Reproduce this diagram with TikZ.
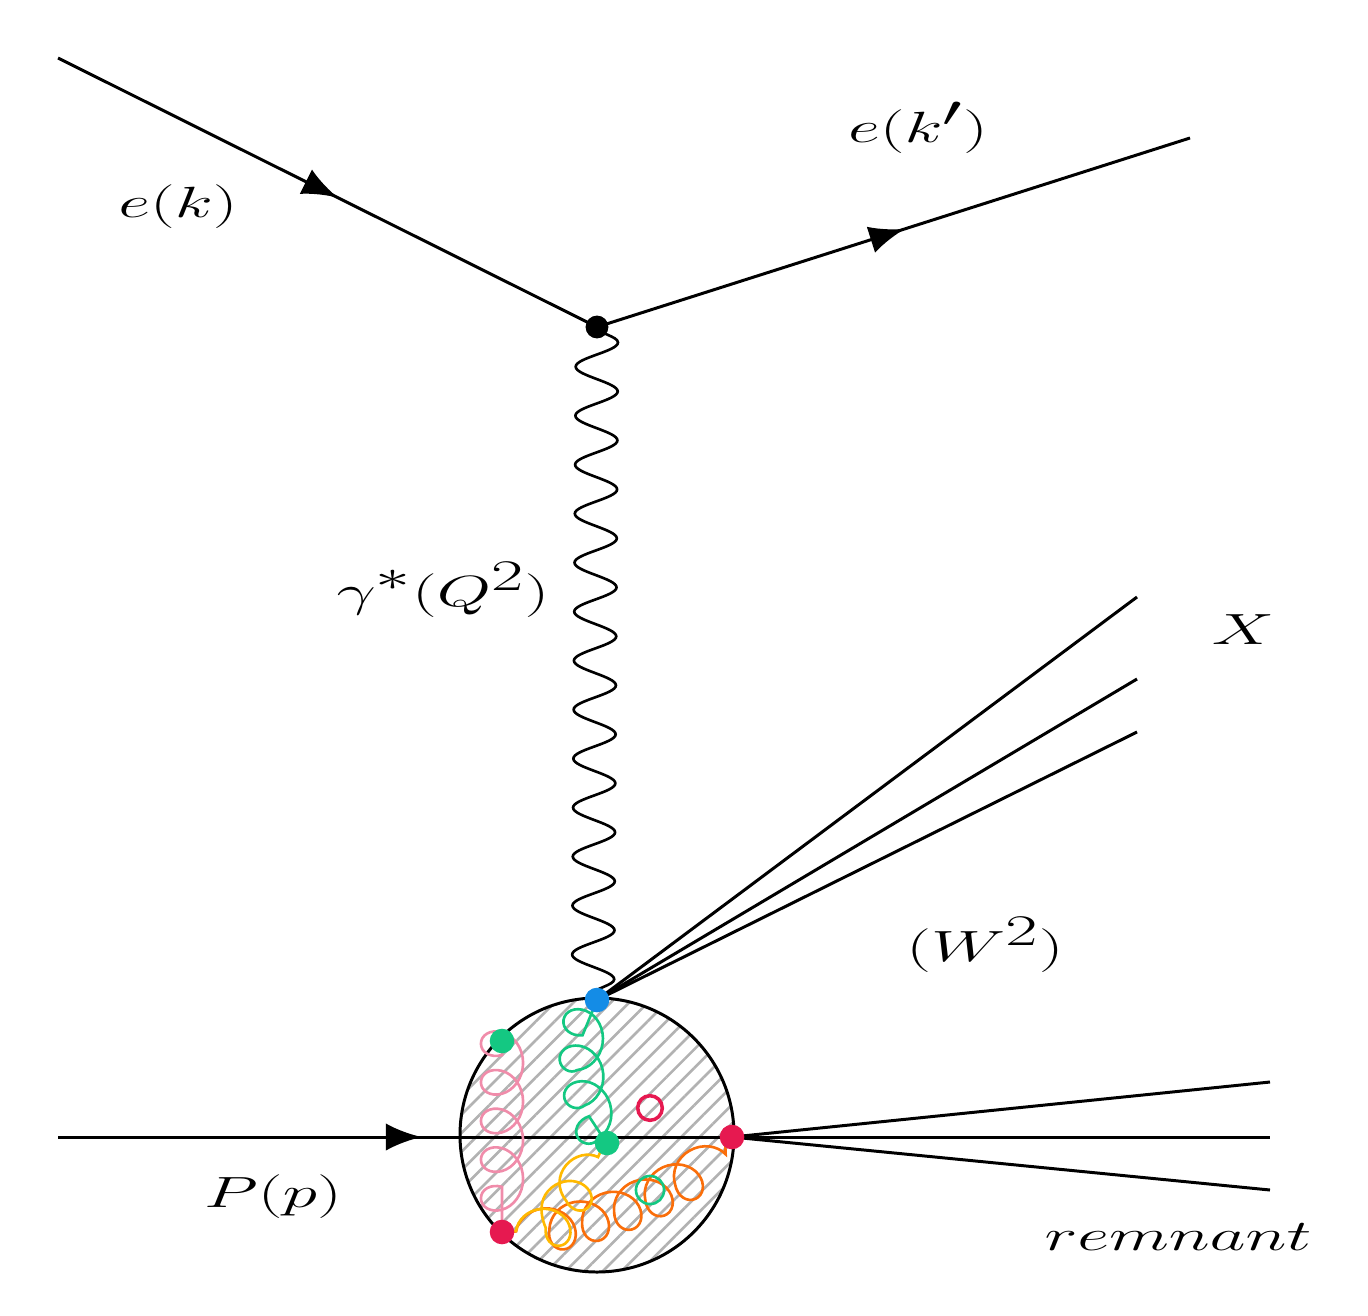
\documentclass[tikz,border=0pt]{standalone}
\usetikzlibrary{decorations.pathmorphing,decorations.markings,patterns.meta}
\begin{document}
\begin{tikzpicture}[x=0.02cm,y=-0.02cm,
  fermion/.style={line width=1.7pt,postaction={decorate},decoration={markings,mark=at position #1 with {\arrow[scale=2.6]{latex}}}},
  plain/.style={line width=1.7pt},
  lbl/.style={font=\fontsize{36}{40}\selectfont,xscale=1.6},
  gl/.style={line width=1.5pt,decorate,decoration={coil,aspect=1,amplitude=#1}},
  dotn/.style={circle,fill=#1,inner sep=0pt,minimum size=14pt}]
\useasboundingbox (0,0) rectangle (1368,1315);
\coordinate (a) at (58,58);
\coordinate (v) at (597,327);
\coordinate (b) at (1190,138);
\draw[fermion=0.52] (a) -- (v);
\draw[fermion=0.52] (v) -- (b);
\node[circle,fill=black,inner sep=0pt,minimum size=13pt] (vd) at (v) {};
\coordinate (ptop) at (593,998);
\draw[line width=1.5pt,decorate,decoration={snake,amplitude=12pt,segment length=0.98cm}] (v) -- (ptop);
% blob
\node[circle,draw,line width=1.7pt,minimum size=274*0.02cm,inner sep=0pt,
  pattern={Lines[angle=45,distance=7.5pt,line width=1.5pt]},pattern color=gray!60] (blob) at (597,1135) {};
\coordinate (pin) at (58,1137);
\coordinate (rr) at (732,1137);
\draw[fermion=0.54] (pin) -- (rr);
% X lines
\coordinate (x1) at (1137,597);
\coordinate (x2) at (1137,679);
\coordinate (x3) at (1137,732);
\coordinate (bl) at (597,1000);
\draw[plain] (bl) -- (x1); \draw[plain] (bl) -- (x2); \draw[plain] (bl) -- (x3);
\coordinate (r1) at (1270,1082);
\coordinate (r2) at (1270,1137);
\coordinate (r3) at (1270,1190);
\draw[plain] (rr) -- (r1); \draw[plain] (rr) -- (r2); \draw[plain] (rr) -- (r3);
% gluons
\coordinate (g1) at (502,1041);
\coordinate (g2) at (607,1143);
\coordinate (rd) at (502,1232);
\definecolor{cgreen}{RGB}{20,200,130}
\definecolor{cpink}{RGB}{240,140,170}
\definecolor{cred}{RGB}{230,25,80}
\definecolor{corange}{RGB}{250,110,10}
\definecolor{cyellow}{RGB}{255,185,0}
\definecolor{cblue}{RGB}{20,140,230}
\draw[cgreen,gl=-12pt,decoration={segment length=20pt,pre length=22pt,post length=4pt}] (bl) .. controls (570,1030) and (580,1110) .. (g2);
\draw[cpink,gl=-12pt,decoration={segment length=22pt,pre length=8pt,post length=8pt}] (g1) -- (rd);
\draw[corange,gl=12pt,decoration={segment length=19pt,pre length=8pt,post length=6pt}] (rd) .. controls (600,1230) and (700,1180) .. (rr);
\draw[cyellow,gl=11pt,decoration={segment length=17pt,pre length=8pt,post length=6pt}] (rd) .. controls (540,1230) .. (g2);
\draw[cgreen,line width=1.5pt] (650,1190) circle (8pt);
\draw[cred,line width=2pt] (650,1108) circle (7pt);
\node[dotn=cblue] (bd) at (bl) {};
\node[dotn=cgreen] (gd1) at (g1) {};
\node[dotn=cgreen] (gd2) at (g2) {};
\node[dotn=cred] (rd1) at (rd) {};
\node[dotn=cred] (rd2) at (rr) {};
% labels
\node[lbl] (l1) at (178,207) {$e(k)$};
\node[lbl] (l2) at (918,128) {$e(k^{\prime})$};
\node[lbl] (l3) at (443,590) {$\gamma^*(Q^2)$};
\node[lbl] (l4) at (1243,630) {$X$};
\node[lbl] (l5) at (985,945) {$(W^2)$};
\node[lbl] (l6) at (273,1197) {$P(p)$};
\node[lbl] (l7) at (1178,1237) {$remnant$};
\end{tikzpicture}
\end{document}
